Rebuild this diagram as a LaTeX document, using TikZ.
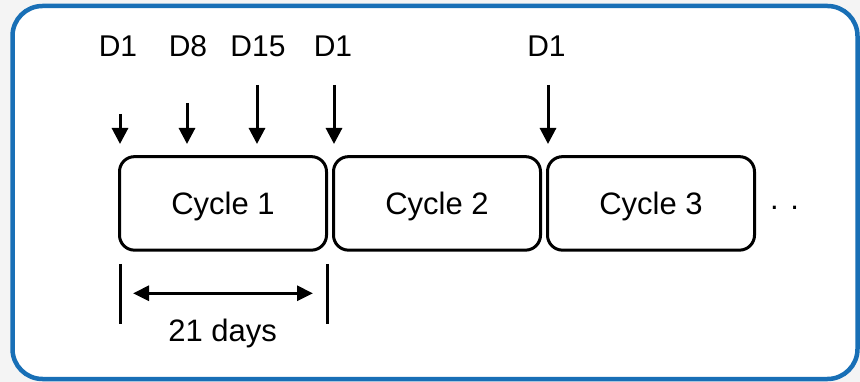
\documentclass[tikz,border=0pt]{standalone}
\usepackage{fontspec}
\setmainfont{Liberation Sans}
\usetikzlibrary{arrows.meta, positioning}
\definecolor{frameblue}{RGB}{24,111,182}
\definecolor{bggray}{RGB}{244,244,244}

\begin{document}
\begin{tikzpicture}[x=1pt, y=-1pt,
  cycbox/.style={draw, line width=3pt, rounded corners=15pt, outer sep=0pt,
    minimum width=207pt, minimum height=93.5pt, inner sep=0pt, text depth=0pt,
    font=\fontsize{31}{36}\selectfont},
  dlabel/.style={anchor=base, inner sep=0pt, font=\fontsize{30}{35}\selectfont},
  dose/.style={line width=3pt, -{Triangle[width=16pt,length=16pt]}}]
  % background and frame
  \fill[bggray] (0,0) rectangle (860,382);
  \draw[frameblue, fill=white, line width=4.5pt, rounded corners=30pt] (12.5,6) rectangle (857.5,379);
  % cycles
  \node[cycbox] (cyc1) at (223,203.4) {Cycle 1};
  \node[cycbox, right=7pt of cyc1] (cyc2) {Cycle 2};
  \node[cycbox, right=7pt of cyc2] (cyc3) {Cycle 3};
  \node[anchor=base west, inner sep=0pt, font=\fontsize{31}{36}\selectfont] (more) at (770,210) {. .};
  % dosing days
  \node[dlabel] (d1a) at (118,57) {D1};
  \node[dlabel] (d8) at (188,57) {D8};
  \node[dlabel] (d15) at (258,57) {D15};
  \node[dlabel] (d1b) at (333,57) {D1};
  \node[dlabel] (d1c) at (546.5,57) {D1};
  \coordinate (a1s) at (120,114);  \coordinate (a1e) at (120,144);
  \coordinate (a8s) at (187,103);  \coordinate (a8e) at (187,144);
  \coordinate (a15s) at (257,85);  \coordinate (a15e) at (257,144);
  \coordinate (a1bs) at (334,85);  \coordinate (a1be) at (334,144);
  \coordinate (a1cs) at (548,85);  \coordinate (a1ce) at (548,144);
  \draw[dose] (a1s) -- (a1e);
  \draw[dose] (a8s) -- (a8e);
  \draw[dose] (a15s) -- (a15e);
  \draw[dose] (a1bs) -- (a1be);
  \draw[dose] (a1cs) -- (a1ce);
  % cycle length
  \coordinate (barLt) at (120,264);  \coordinate (barLb) at (120,324);
  \coordinate (barRt) at (327,264);  \coordinate (barRb) at (327,324);
  \draw[line width=3pt] (barLt) -- (barLb);
  \draw[line width=3pt] (barRt) -- (barRb);
  \coordinate (spanL) at (133,293.3);  \coordinate (spanR) at (313,293.3);
  \draw[line width=3pt, {Triangle[width=15pt,length=16pt]}-{Triangle[width=15pt,length=16pt]}] (spanL) -- (spanR);
  \node[dlabel, font=\fontsize{31}{36}\selectfont] (len) at (222.7,341.7) {21 days};
\end{tikzpicture}
\end{document}
